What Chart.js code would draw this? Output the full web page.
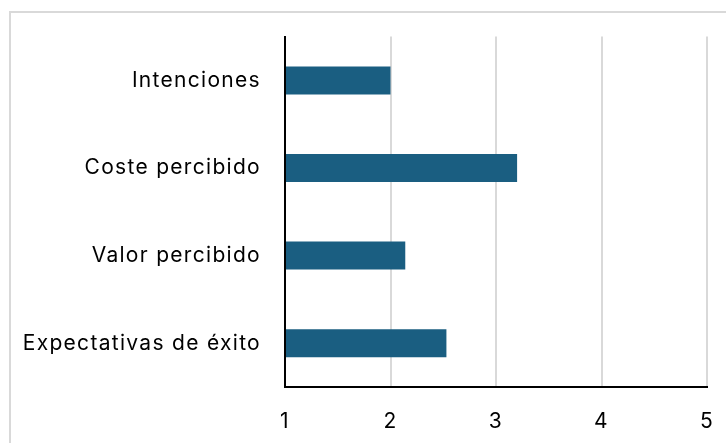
<!DOCTYPE html>
<html>
<head>
<meta charset="utf-8">
<script src="https://cdn.jsdelivr.net/npm/chart.js@4"></script>
<style>
  html, body { margin: 0; padding: 0; background: #fff; overflow: hidden; }
  #frame {
    position: absolute; left: 9px; top: 11px;
    width: 760px; height: 470px;
    border: 2px solid #d9d9d9; box-sizing: border-box;
  }
  #wrap { position: absolute; left: 0; top: 0; width: 726px; height: 443px; }
</style>
</head>
<body>
<div id="frame"></div>
<div id="wrap"><canvas id="barChart"></canvas></div>
<script>
const categories = ['Intenciones', 'Coste percibido', 'Valor percibido', 'Expectativas de éxito'];
const scores = [2.0, 3.2, 2.14, 2.53];
const xTicks = [1, 2, 3, 4, 5];

// slightly looser text spacing, like the original labels
const spacingPlugin = {
    id: 'spacing',
    beforeDraw: function(chart) {
        chart.ctx.letterSpacing = '1.3px';
    }
};

document.addEventListener('DOMContentLoaded', function() {
    const ctx = document.getElementById('barChart');
    new Chart(ctx, {
        type: 'bar',
        data: {
            labels: categories,
            datasets: [{
                label: 'Puntuación',
                data: scores,
                backgroundColor: '#1a5e81',
                borderWidth: 0,
                barPercentage: 0.8,
                categoryPercentage: 0.4,
                base: 1
            }]
        },
        plugins: [spacingPlugin],
        options: {
            indexAxis: 'y',
            responsive: true,
            maintainAspectRatio: false,
            animation: false,
            plugins: {
                legend: { display: false },
                tooltip: { enabled: false }
            },
            layout: {
                padding: { top: 34, right: 19, left: 0, bottom: 0 }
            },
            scales: {
                x: {
                    min: xTicks[0],
                    max: xTicks[xTicks.length - 1],
                    afterBuildTicks: function(scale) {
                        scale.ticks = xTicks.map(v => ({ value: v }));
                    },
                    afterFit: function(scale) {
                        scale.height = 56;
                        scale.paddingLeft = 0;
                        scale.paddingRight = 0;
                    },
                    grid: {
                        color: '#d9d9d9',
                        lineWidth: 2,
                        drawTicks: false
                    },
                    border: { display: true, color: '#000', width: 2 },
                    ticks: {
                        padding: 22,
                        color: '#000',
                        font: { family: 'Inter', size: 21 }
                    }
                },
                y: {
                    afterFit: function(scale) { scale.width = 285; },
                    grid: { display: false, drawTicks: false },
                    border: { display: true, color: '#000', width: 2 },
                    ticks: {
                        padding: 24,
                        color: '#000',
                        font: { family: 'Inter', size: 21 }
                    }
                }
            }
        }
    });
});
</script>
</body>
</html>
